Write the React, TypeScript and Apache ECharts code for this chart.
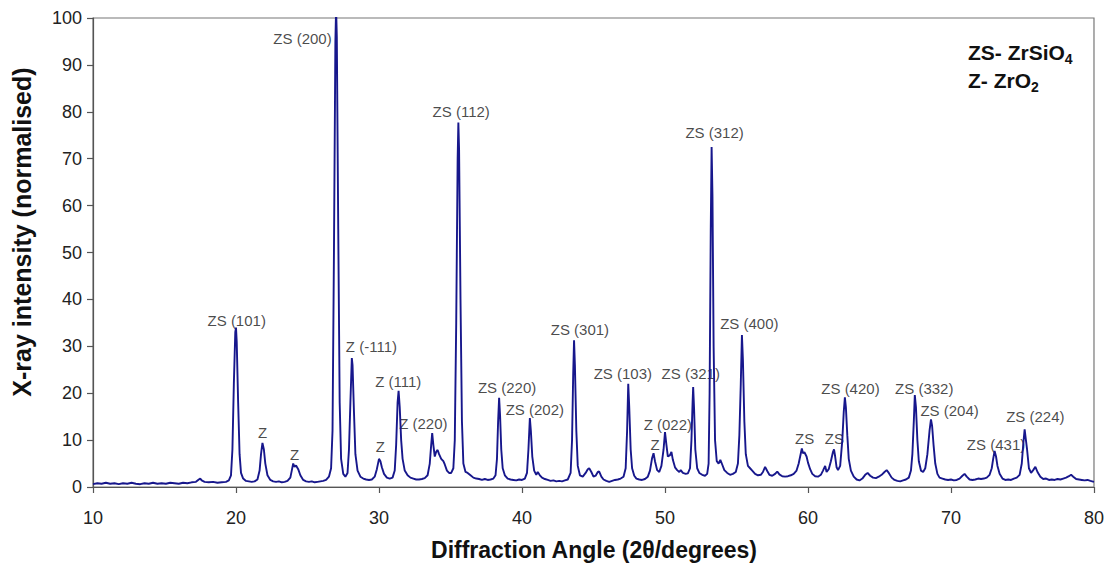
import React, { useEffect, useRef } from "react";
import * as echarts from "echarts";

// Diffraction angle (2θ, degrees) vs normalised intensity
const xrdPattern: [number, number][] = [
  [10, 0.6], [10.3, 0.8], [10.6, 0.7], [10.9, 0.9], [11.2, 0.7], [11.5, 0.8], [11.8, 0.6], [12.1, 0.8],
  [12.4, 0.7], [12.7, 0.9], [13.0, 0.7], [13.3, 0.6], [13.6, 0.8], [13.9, 0.7], [14.2, 0.9], [14.5, 0.7],
  [14.8, 0.8], [15.1, 0.7], [15.4, 0.9], [15.7, 0.8], [16.0, 0.7], [16.3, 0.9], [16.6, 0.8], [16.9, 1.0],
  [17.2, 1.1], [17.4, 1.6], [17.5, 1.8], [17.6, 1.4], [17.8, 1.1], [18.1, 1.0], [18.4, 1.1], [18.7, 0.9],
  [19.0, 1.0], [19.3, 1.1], [19.5, 1.4], [19.65, 2.5], [19.75, 8], [19.85, 22], [19.95, 33], [20.0, 34],
  [20.05, 31], [20.15, 18], [20.25, 7], [20.35, 3], [20.5, 1.8], [20.7, 1.3], [20.9, 1.2], [21.1, 1.1],
  [21.3, 1.2], [21.5, 1.6], [21.65, 3.5], [21.75, 7], [21.85, 9.4], [21.95, 8], [22.05, 5], [22.2, 2.5],
  [22.4, 1.5], [22.6, 1.2], [22.8, 1.1], [23.0, 1.2], [23.2, 1.0], [23.4, 1.1], [23.6, 1.3], [23.8, 2.0],
  [23.9, 3.5], [24.0, 5.0], [24.1, 4.3], [24.2, 4.6], [24.35, 3.8], [24.5, 2.5], [24.7, 1.5], [24.9, 1.2],
  [25.1, 1.1], [25.3, 1.2], [25.5, 1.0], [25.7, 1.1], [25.9, 1.2], [26.1, 1.3], [26.3, 1.5], [26.5, 2.2],
  [26.65, 4], [26.75, 12], [26.85, 50], [26.95, 95], [27.0, 102], [27.05, 96], [27.15, 55], [27.25, 18],
  [27.35, 6], [27.5, 2.8], [27.65, 2.2], [27.8, 3.0], [27.9, 8], [28.0, 18], [28.1, 27.5], [28.15, 26],
  [28.25, 16], [28.35, 7], [28.5, 3.5], [28.7, 2.2], [28.9, 1.8], [29.1, 1.6], [29.3, 1.5], [29.5, 1.6],
  [29.7, 2.2], [29.85, 3.8], [30.0, 6.0], [30.1, 5.5], [30.2, 4.2], [30.35, 2.8], [30.55, 2.0], [30.75, 1.8],
  [30.95, 2.0], [31.1, 3.5], [31.2, 9], [31.3, 18], [31.37, 20.5], [31.45, 17], [31.55, 10], [31.65, 6],
  [31.8, 3.5], [32.0, 2.5], [32.2, 2.0], [32.4, 1.8], [32.6, 1.6], [32.8, 1.6], [33.0, 1.7], [33.2, 1.9],
  [33.4, 2.5], [33.55, 5], [33.65, 9], [33.72, 11.5], [33.8, 9], [33.9, 6.5], [34.0, 7.5], [34.1, 7.9],
  [34.2, 7.0], [34.35, 6.0], [34.5, 5.5], [34.6, 4.8], [34.75, 3.5], [34.9, 3.0], [35.05, 3.0], [35.2, 4],
  [35.3, 10], [35.4, 35], [35.5, 70], [35.55, 77.7], [35.6, 72], [35.7, 40], [35.8, 14], [35.9, 5],
  [36.05, 3.2], [36.2, 3.0], [36.4, 2.5], [36.6, 2.0], [36.8, 1.8], [37.0, 1.7], [37.2, 1.5], [37.4, 1.7],
  [37.6, 1.5], [37.8, 1.6], [38.0, 1.8], [38.15, 2.5], [38.25, 6], [38.33, 14], [38.4, 19], [38.47, 15],
  [38.55, 8], [38.65, 4], [38.8, 2.5], [39.0, 1.8], [39.2, 1.6], [39.4, 1.5], [39.6, 1.4], [39.8, 1.6],
  [40.0, 1.5], [40.2, 1.8], [40.35, 3], [40.45, 8], [40.55, 14.7], [40.62, 12], [40.72, 6.5], [40.85, 3.5],
  [41.0, 2.6], [41.1, 3.2], [41.25, 2.5], [41.4, 2.0], [41.6, 1.7], [41.8, 1.5], [42.0, 1.3], [42.2, 1.4],
  [42.4, 1.2], [42.6, 1.3], [42.8, 1.2], [43.0, 1.4], [43.2, 1.6], [43.4, 3], [43.5, 10], [43.58, 24],
  [43.64, 31.3], [43.7, 26], [43.8, 12], [43.9, 4.5], [44.05, 2.5], [44.25, 2.2], [44.45, 3.0], [44.6, 3.8],
  [44.7, 4.0], [44.85, 3.2], [45.0, 2.2], [45.15, 2.4], [45.3, 3.2], [45.4, 3.3], [45.55, 2.2], [45.7, 1.6],
  [45.9, 1.3], [46.1, 1.1], [46.3, 1.3], [46.5, 1.5], [46.7, 1.6], [46.9, 1.8], [47.1, 2.2], [47.25, 4],
  [47.35, 12], [47.43, 22], [47.5, 17], [47.6, 8], [47.7, 4], [47.85, 2.4], [48.0, 1.8], [48.2, 1.6],
  [48.4, 1.5], [48.6, 1.7], [48.8, 2.2], [48.95, 3.5], [49.1, 6.2], [49.2, 7.2], [49.3, 5.5], [49.45, 3.6],
  [49.6, 3.2], [49.75, 4.5], [49.9, 8], [50.0, 11.7], [50.1, 9], [50.2, 6.5], [50.35, 6.8], [50.45, 7.5],
  [50.55, 5.8], [50.7, 4.2], [50.85, 3.6], [51.0, 3.2], [51.1, 3.6], [51.25, 3.0], [51.45, 2.8], [51.6, 2.9],
  [51.75, 4], [51.85, 10], [51.93, 18], [51.97, 21.3], [52.03, 17], [52.12, 8], [52.25, 4], [52.4, 3],
  [52.6, 2.6], [52.8, 2.4], [52.95, 2.8], [53.05, 5], [53.12, 20], [53.2, 55], [53.26, 72.5], [53.32, 62],
  [53.4, 30], [53.5, 10], [53.62, 5.5], [53.75, 5.0], [53.87, 5.8], [54.0, 4.8], [54.15, 3.6], [54.35, 3.0],
  [54.55, 2.6], [54.75, 2.8], [54.95, 3.2], [55.1, 5], [55.2, 11], [55.3, 22], [55.38, 32.4], [55.45, 27],
  [55.55, 14], [55.65, 7], [55.8, 4.5], [55.95, 4.0], [56.1, 3.5], [56.3, 2.8], [56.5, 2.5], [56.7, 2.6],
  [56.85, 3.2], [57.0, 4.3], [57.15, 3.4], [57.3, 2.6], [57.5, 2.4], [57.7, 2.8], [57.85, 3.3], [58.0, 2.7],
  [58.2, 2.3], [58.4, 2.2], [58.6, 2.3], [58.8, 2.5], [59.0, 2.8], [59.2, 3.5], [59.35, 5], [59.5, 7.2],
  [59.57, 8.2], [59.65, 7.2], [59.75, 7.4], [59.9, 6.5], [60.0, 5.2], [60.15, 3.8], [60.3, 2.8], [60.5, 2.3],
  [60.7, 2.2], [60.9, 2.6], [61.05, 3.5], [61.2, 4.5], [61.3, 3.2], [61.45, 3.8], [61.6, 5.5], [61.75, 7.5],
  [61.82, 8.0], [61.9, 6.5], [62.0, 4.2], [62.1, 3.6], [62.25, 4.5], [62.4, 10], [62.5, 16], [62.58, 19.1],
  [62.65, 17], [62.75, 11], [62.85, 6], [63.0, 3.5], [63.2, 2.2], [63.4, 1.6], [63.6, 1.4], [63.8, 1.8],
  [64.0, 2.6], [64.17, 3.0], [64.35, 2.4], [64.55, 2.0], [64.75, 1.9], [64.95, 2.2], [65.15, 2.6], [65.35, 3.2],
  [65.5, 3.6], [65.65, 3.0], [65.85, 2.0], [66.05, 1.5], [66.25, 1.3], [66.45, 1.2], [66.65, 1.4], [66.85, 1.6],
  [67.05, 2.0], [67.2, 3.5], [67.3, 7], [67.4, 14], [67.47, 19.6], [67.55, 17], [67.65, 10], [67.75, 5.5],
  [67.9, 3.5], [68.05, 3.2], [68.2, 4], [68.35, 7], [68.5, 12], [68.6, 14.4], [68.68, 13], [68.78, 9],
  [68.9, 5], [69.05, 2.8], [69.2, 2.0], [69.4, 1.8], [69.6, 1.6], [69.8, 1.5], [70.0, 1.6], [70.2, 1.4],
  [70.4, 1.5], [70.6, 1.8], [70.8, 2.4], [70.95, 2.8], [71.1, 2.2], [71.3, 1.6], [71.5, 1.5], [71.7, 1.6],
  [71.9, 1.8], [72.1, 1.7], [72.3, 1.8], [72.5, 2.0], [72.7, 2.6], [72.85, 4], [72.95, 6], [73.05, 7.7],
  [73.15, 6.5], [73.25, 4.5], [73.4, 2.8], [73.6, 1.8], [73.8, 1.5], [74.0, 1.6], [74.2, 1.5], [74.4, 1.8],
  [74.6, 2.0], [74.8, 2.6], [74.95, 5], [75.05, 9], [75.15, 12.3], [75.22, 10.5], [75.32, 8], [75.45, 4],
  [75.6, 3.0], [75.75, 3.6], [75.9, 4.3], [76.05, 3.2], [76.25, 2.2], [76.45, 1.7], [76.65, 1.8], [76.85, 1.5],
  [77.05, 1.6], [77.25, 1.5], [77.45, 1.7], [77.65, 1.6], [77.85, 1.8], [78.05, 2.0], [78.25, 2.3], [78.4, 2.6],
  [78.55, 2.2], [78.75, 1.7], [78.95, 1.6], [79.15, 1.5], [79.35, 1.4], [79.55, 1.5], [79.75, 1.3], [80, 1.1],
];

// Peak annotations: [angle, intensity, text]
const peakLabels: [number, number, string][] = [
  [20.05, 35.6, "ZS (101)"],
  [21.86, 11.7, "Z"],
  [24.1, 7.0, "Z"],
  [24.65, 95.7, "ZS (200)"],
  [29.47, 29.9, "Z (-111)"],
  [30.1, 8.7, "Z"],
  [31.35, 22.4, "Z (111)"],
  [33.1, 13.6, "Z (220)"],
  [35.75, 80.0, "ZS (112)"],
  [38.96, 21.3, "ZS (220)"],
  [40.9, 16.6, "ZS (202)"],
  [44.05, 33.5, "ZS (301)"],
  [47.05, 24.1, "ZS (103)"],
  [49.3, 9.0, "Z"],
  [50.2, 13.4, "Z (022)"],
  [51.8, 24.1, "ZS (321)"],
  [53.47, 75.5, "ZS (312)"],
  [55.9, 34.8, "ZS (400)"],
  [59.76, 10.4, "ZS"],
  [61.85, 10.4, "ZS"],
  [62.97, 21.0, "ZS (420)"],
  [68.13, 21.0, "ZS (332)"],
  [69.9, 16.4, "ZS (204)"],
  [73.15, 9.0, "ZS (431)"],
  [75.9, 15.0, "ZS (224)"],
];

const xTicks = { min: 10, max: 80, interval: 10 };
const yTicks = { min: 0, max: 100, interval: 10 };

const xTitle = "Diffraction Angle (2θ/degrees)";
const yTitle = "X-ray intensity (normalised)";

const FONT = "'Liberation Sans', Arial, Helvetica, sans-serif";

export default function App() {
  const ref = useRef<HTMLDivElement>(null);

  useEffect(() => {
    if (!ref.current) return;
    const chart = echarts.init(ref.current, undefined, { renderer: "svg" });
    const axisColor = "#555";
    const subStyle = { fontSize: 14, fontWeight: "bold", fontFamily: FONT, padding: [13, 0, 0, 0], fill: "#111" };
    chart.setOption({
      animation: false,
      backgroundColor: "#ffffff",
      textStyle: { fontFamily: FONT },
      grid: {
        left: 93,
        right: 12,
        top: 18,
        bottom: 77,
        show: true,
        borderColor: "#777",
        borderWidth: 1.2,
        containLabel: false,
      },
      xAxis: {
        type: "value",
        min: xTicks.min,
        max: xTicks.max,
        interval: xTicks.interval,
        splitLine: { show: false },
        axisLine: { show: true, onZero: false, lineStyle: { color: axisColor, width: 1.2 } },
        axisTick: { show: true, inside: false, length: 6, lineStyle: { color: axisColor, width: 1.2 } },
        axisLabel: { color: "#222", fontSize: 18, margin: 22, fontFamily: FONT },
      },
      yAxis: {
        type: "value",
        min: yTicks.min,
        max: yTicks.max,
        interval: yTicks.interval,
        splitLine: { show: false },
        axisLine: { show: true, lineStyle: { color: axisColor, width: 1.2 } },
        axisTick: { show: true, inside: false, length: 6, lineStyle: { color: axisColor, width: 1.2 } },
        axisLabel: { color: "#222", fontSize: 18, margin: 11, fontFamily: FONT },
      },
      series: [
        {
          type: "scatter",
          z: 1,
          silent: true,
          symbolSize: 1,
          itemStyle: { color: "rgba(0,0,0,0)" },
          data: peakLabels.map((p) => ({ value: [p[0], p[1]], name: p[2] })),
          label: {
            show: true,
            position: "inside",
            formatter: (pp: any) => pp.name,
            color: "#1a1a1a",
            fontSize: 15,
            fontFamily: FONT,
          },
        },
        {
          type: "line",
          z: 3,
          data: xrdPattern,
          showSymbol: false,
          symbol: "none",
          clip: true,
          lineStyle: { color: "#17178c", width: 1.9 },
        },
      ],
      graphic: [
        {
          type: "text",
          x: 22,
          y: 232,
          rotation: Math.PI / 2,
          style: {
            text: yTitle,
            font: `bold 25px ${FONT}`,
            fill: "#111",
            textAlign: "center",
            textVerticalAlign: "middle",
          },
        },
        {
          type: "text",
          x: 594,
          y: 550,
          style: {
            text: xTitle,
            font: `bold 23px ${FONT}`,
            fill: "#111",
            textAlign: "center",
            textVerticalAlign: "middle",
          },
        },
        {
          type: "text",
          x: 968,
          y: 52,
          style: {
            text: "ZS- ZrSiO{sub|4}",
            fontFamily: FONT,
            fontWeight: "bold",
            fontSize: 21,
            fill: "#111",
            textVerticalAlign: "middle",
            rich: { sub: subStyle },
          },
        },
        {
          type: "text",
          x: 968,
          y: 80,
          style: {
            text: "Z- ZrO{sub|2}",
            fontFamily: FONT,
            fontWeight: "bold",
            fontSize: 21,
            fill: "#111",
            textVerticalAlign: "middle",
            rich: { sub: subStyle },
          },
        },
      ],
    });
    return () => chart.dispose();
  }, []);

  return (
    <div
      ref={ref}
      style={{ position: "absolute", left: 0, top: 0, width: 1107, height: 564, background: "#fff" }}
    />
  );
}
